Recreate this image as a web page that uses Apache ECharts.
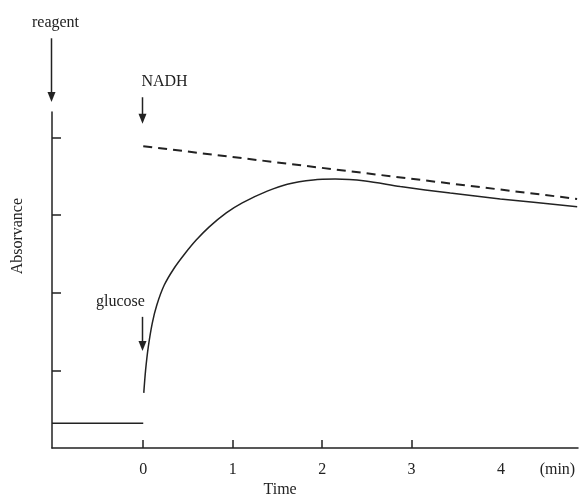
<!DOCTYPE html>
<html>
<head>
<meta charset="utf-8">
<script src="https://cdn.jsdelivr.net/npm/echarts@6/dist/echarts.min.js"></script>
<style>
  html, body { margin: 0; padding: 0; background: #fff; }
  #main { width: 581px; height: 497px; }
</style>
</head>
<body>
<div id="main"></div>
<script>
// data (time in min, absorbance in arbitrary units)
var baseTime = [-1.02, 0];
var baseValue = [0.32, 0.32];

var curveTime = [0.006, 0.026, 0.056, 0.101, 0.151, 0.235, 0.347, 0.469, 0.592, 0.738, 0.928, 1.107, 1.386, 1.61, 1.9, 2.146, 2.482, 2.873, 3.432, 3.991, 4.851];
var curveValue = [0.71, 1.0, 1.3, 1.61, 1.84, 2.1, 2.32, 2.51, 2.68, 2.85, 3.03, 3.16, 3.31, 3.4, 3.455, 3.465, 3.44, 3.37, 3.285, 3.21, 3.11];

var nadhTime = [0, 4.85];
var nadhValue = [3.89, 3.21];

var xTickValues = [0, 1, 2, 3];
var yTickValues = [1, 2, 3, 4];
var xLabelValues = [0, 1, 2, 3, 4, 4.63];
var xLabelText = ['0', '1', '2', '3', '4', '(min)'];

// annotation arrows: [time, from value, to value, text]
var arrowNotes = [
    [-1.02, 5.28, 4.46, 'reagent'],
    [0, 4.52, 4.18, 'NADH'],
    [0, 1.69, 1.25, 'glucose']
];

function pairs(xs, ys) {
    var out = [];
    for (var i = 0; i < xs.length; i++) out.push([xs[i], ys[i]]);
    return out;
}

var ink = '#222';
var serif = '"Liberation Serif", "DejaVu Serif", serif';

var myChart = echarts.init(document.getElementById('main'));

var option = {
    backgroundColor: '#fff',
    animation: false,
    grid: { left: 52, right: 3, top: 112, bottom: 49 },
    xAxis: {
        type: 'value',
        min: -1.02,
        max: 4.86,
        axisLine: { show: true, onZero: false, lineStyle: { color: ink, width: 1.5 } },
        axisTick: { show: true, inside: true, length: 8, customValues: xTickValues, lineStyle: { color: ink, width: 1.5 } },
        axisLabel: {
            show: true,
            customValues: xLabelValues,
            margin: 14,
            color: ink,
            fontFamily: serif,
            fontSize: 16,
            formatter: function (v) {
                var i = xLabelValues.indexOf(v);
                return i >= 0 ? xLabelText[i] : '';
            }
        },
        splitLine: { show: false }
    },
    yAxis: {
        type: 'value',
        min: 0,
        max: 4.33,
        axisLine: { show: true, onZero: false, lineStyle: { color: ink, width: 1.5 } },
        axisTick: { show: true, inside: true, length: 9, customValues: yTickValues, lineStyle: { color: ink, width: 1.5 } },
        axisLabel: { show: false },
        splitLine: { show: false }
    },
    series: [
        {
            type: 'line',
            data: pairs(baseTime, baseValue),
            showSymbol: false,
            lineStyle: { color: ink, width: 1.5 }
        },
        {
            type: 'line',
            data: pairs(curveTime, curveValue),
            showSymbol: false,
            smooth: 0.3,
            lineStyle: { color: ink, width: 1.5 }
        },
        {
            type: 'line',
            data: pairs(nadhTime, nadhValue),
            showSymbol: false,
            lineStyle: { color: ink, width: 2, type: [9, 6] }
        }
    ]
};
myChart.setOption(option);

// arrows and their labels, placed through the axes
var g = [];
arrowNotes.forEach(function (a) {
    var p0 = myChart.convertToPixel({ gridIndex: 0 }, [a[0], a[1]]);
    var p1 = myChart.convertToPixel({ gridIndex: 0 }, [a[0], a[2]]);
    var x = Math.round(p0[0]) - 0.5;
    g.push({
        type: 'line',
        shape: { x1: x, y1: p0[1], x2: x, y2: p1[1] - 8 },
        style: { stroke: ink, lineWidth: 1.5 }
    });
    g.push({
        type: 'polygon',
        shape: { points: [[x - 4, p1[1] - 10], [x + 4, p1[1] - 10], [x, p1[1]]] },
        style: { fill: ink }
    });
    var tx = a[3] === 'NADH' ? x + 22 : (a[3] === 'glucose' ? x - 22 : x + 4);
    g.push({
        type: 'text',
        x: tx,
        y: p0[1] - 15,
        style: {
            text: a[3],
            fill: ink,
            font: '16px ' + serif,
            align: 'center',
            verticalAlign: 'middle'
        }
    });
});
var tp = myChart.convertToPixel({ gridIndex: 0 }, [1.53, 0]);
g.push({
    type: 'text',
    x: tp[0],
    y: tp[1] + 42,
    style: { text: 'Time', fill: ink, font: '16px ' + serif, align: 'center', verticalAlign: 'middle' }
});
// y axis title sits above the middle of the axis
var ap = myChart.convertToPixel({ gridIndex: 0 }, [-1.02, 2.73]);
g.push({
    type: 'text',
    x: ap[0] - 34,
    y: ap[1],
    rotation: Math.PI / 2,
    style: { text: 'Absorvance', fill: ink, font: '16px ' + serif, align: 'center', verticalAlign: 'middle' }
});
myChart.setOption({ graphic: g });
</script>
</body>
</html>
